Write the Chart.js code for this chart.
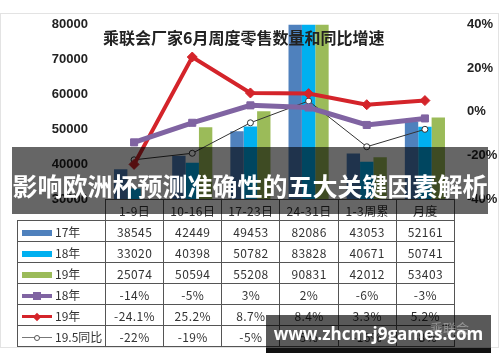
<!DOCTYPE html>
<html lang="zh-CN">
<head>
<meta charset="utf-8">
<title>乘联会厂家6月周度零售数量和同比增速</title>
<script src="https://cdn.jsdelivr.net/npm/chart.js@4.4.1/dist/chart.umd.min.js"></script>
<style>
  html, body { margin: 0; padding: 0; background: #fff; }
  #wrap { position: relative; width: 500px; height: 362px; overflow: hidden; font-family: "Noto Sans CJK SC", "Liberation Sans", sans-serif; }
  #frame { position: absolute; left: 0; top: 13px; width: 497px; height: 333px; border: 1px solid #e3e3e3; }
  #chart { position: absolute; left: 0; top: 0; }
  #title { position: absolute; left: 103px; top: 28px; font-size: 16px; line-height: 18px; font-weight: bold; color: #222; white-space: nowrap; }
  #dataTable { position: absolute; left: 17px; top: 199px; width: 437px; border-collapse: collapse; table-layout: fixed; font-size: 12px; color: #333; }
  #dataTable td { border: 1px solid #555; height: 20px; padding: 0; text-align: center; letter-spacing: .4px; white-space: nowrap; }
  #dataTable tr.head td { color: #333; }
  #dataTable tr.head td.blank { border: none; border-right: 1px solid #555; }
  #dataTable td.lab { text-align: left; padding-left: 4px; font-size: 12px; letter-spacing: 0; overflow: hidden; }
  .sw { display: inline-block; position: relative; width: 30px; height: 10px; margin-right: 3px; vertical-align: -1px; }
  .sw .ln { position: absolute; left: 0; right: 0; }
  .sw .mk { position: absolute; }
  #banner { position: absolute; left: 12px; top: 147px; width: 476px; height: 67px; padding-top: 10px; box-sizing: border-box; background: rgba(0,0,0,.6); color: #fff; font-size: 25px; font-weight: bold; line-height: 57px; white-space: nowrap; text-align: center; }
  #logo { position: absolute; left: 430px; top: 318px; font-size: 13px; color: rgba(255,255,255,.35); white-space: nowrap; }
  #mark { position: absolute; left: 266px; top: 315px; width: 225px; height: 33px; background: rgba(0,0,0,.65); }
  #markBand { position: absolute; left: 266px; top: 348px; width: 225px; height: 5px; background: #111; }
  #markText { position: absolute; left: 266px; top: 322px; width: 225px; text-align: center; font-family: "Open Sans", sans-serif; font-weight: bold; font-size: 17px; line-height: 24px; color: #fff; white-space: nowrap; }
</style>
</head>
<body>
<div id="wrap">
  <div id="frame"></div>
  <canvas id="chart" width="500" height="362"></canvas>
  <div id="title">乘联会厂家6月周度零售数量和同比增速</div>
  <table id="dataTable"><colgroup id="cols"></colgroup><tbody id="tableBody"></tbody></table>
  <div id="banner">影响欧洲杯预测准确性的五大关键因素解析</div>
  <div id="mark"></div>
  <div id="markBand"></div>
  <div id="logo">乘联会</div>
  <div id="markText">www.zhcm-j9games.com</div>
</div>
<script>
  var categories = ['1-9日', '10-16日', '17-23日', '24-31日', '1-3周累', '月度'];
  var sales17 = [38545, 42449, 49453, 82086, 43053, 52161];
  var sales18 = [33020, 40398, 50782, 83828, 40671, 50741];
  var sales19 = [25074, 50594, 55208, 90831, 42012, 53403];
  var growth18 = [-14, -5, 3, 2, -6, -3];
  var growth19 = [-24.1, 25.2, 8.7, 8.4, 3.3, 5.2];
  var growth195 = [-22, -19, -5, 5, -16, -8];
  var leftTicks = [30000, 40000, 50000, 60000, 70000, 80000];
  var rightTicks = [-40, -20, 0, 20, 40];

  var colors = { c17: '#4f81bd', c18: '#00b0f0', c19: '#9bbb59', g18: '#8064a2', g19: '#d4242a', g195: '#333' };

  function pct(v) { return v + '%'; }

  function buildTable() {
    var cols = '<col style="width:88px">';
    categories.forEach(function() { cols += '<col style="width:58.17px">'; });
    document.getElementById('cols').innerHTML = cols;

    function barSw(c) {
      return '<span class="sw"><span class="ln" style="top:2px;height:6px;background:' + c + '"></span></span>';
    }
    function lineSw(c, h, mk) {
      return '<span class="sw"><span class="ln" style="top:' + (5 - h / 2) + 'px;height:' + h + 'px;background:' + c + '"></span>' + mk + '</span>';
    }
    var rows = [
      [barSw(colors.c17), '17年', sales17.map(String)],
      [barSw(colors.c18), '18年', sales18.map(String)],
      [barSw(colors.c19), '19年', sales19.map(String)],
      [lineSw(colors.g18, 4, '<span class="mk" style="left:11px;top:1px;width:8px;height:8px;background:' + colors.g18 + '"></span>'), '18年', growth18.map(pct)],
      [lineSw(colors.g19, 3, '<span class="mk" style="left:12px;top:2px;width:6px;height:6px;transform:rotate(45deg);background:' + colors.g19 + '"></span>'), '19年', growth19.map(pct)],
      [lineSw('#777', 1, '<span class="mk" style="left:12px;top:2px;width:4px;height:4px;border:1px solid #555;border-radius:50%;background:#fff"></span>'), '19.5同比', growth195.map(pct)]
    ];
    var html = '<tr class="head"><td class="blank"></td>' + categories.map(function(c) { return '<td>' + c + '</td>'; }).join('') + '</tr>';
    html += rows.map(function(r) {
      return '<tr><td class="lab">' + r[0] + r[1] + '</td>' + r[2].map(function(v) { return '<td>' + v + '</td>'; }).join('') + '</tr>';
    }).join('');
    document.getElementById('tableBody').innerHTML = html;
  }

  buildTable();

  var tickFont = { family: 'Liberation Sans', size: 13, weight: 'bold' };

  new Chart(document.getElementById('chart'), {
    type: 'bar',
    data: {
      labels: categories,
      datasets: [
        { type: 'line', label: '18年', data: growth18, yAxisID: 'y1', order: 0, borderColor: colors.g18, backgroundColor: colors.g18, borderWidth: 5, pointStyle: 'rect', pointRadius: 5, pointBorderWidth: 1, tension: 0 },
        { type: 'line', label: '19年', data: growth19, yAxisID: 'y1', order: 0, borderColor: colors.g19, backgroundColor: colors.g19, borderWidth: 4, pointStyle: 'rectRot', pointRadius: 5, pointBorderWidth: 1, tension: 0 },
        { type: 'line', label: '19.5同比', data: growth195, yAxisID: 'y1', order: 0, borderColor: colors.g195, backgroundColor: '#fff', borderWidth: 1, pointStyle: 'circle', pointRadius: 3, pointBorderWidth: 1, tension: 0 },
        { label: '17年', data: sales17, yAxisID: 'y', order: 1, backgroundColor: colors.c17 },
        { label: '18年', data: sales18, yAxisID: 'y', order: 1, backgroundColor: colors.c18 },
        { label: '19年', data: sales19, yAxisID: 'y', order: 1, backgroundColor: colors.c19 }
      ]
    },
    options: {
      responsive: false,
      animation: false,
      events: [],
      barPercentage: 1,
      categoryPercentage: 0.69,
      layout: { padding: { top: 21, bottom: 163, left: 0, right: 0 } },
      plugins: { legend: { display: false }, title: { display: false }, tooltip: { enabled: false } },
      scales: {
        x: { display: false },
        y: {
          position: 'left', min: 30000, max: 80000,
          grid: { display: false, drawTicks: false }, border: { display: false },
          ticks: { padding: 17, color: '#222', font: tickFont, callback: function(v) { return String(v); } },
          afterBuildTicks: function(scale) { scale.ticks = leftTicks.map(function(v) { return { value: v }; }); },
          afterFit: function(scale) { scale.width = 105; }
        },
        y1: {
          position: 'right', min: -40, max: 40,
          grid: { display: false, drawTicks: false }, border: { display: false },
          ticks: { padding: 13, color: '#222', font: tickFont, callback: function(v) { return v + '%'; } },
          afterBuildTicks: function(scale) { scale.ticks = rightTicks.map(function(v) { return { value: v }; }); },
          afterFit: function(scale) { scale.width = 46; }
        }
      }
    }
  });
</script>
</body>
</html>
